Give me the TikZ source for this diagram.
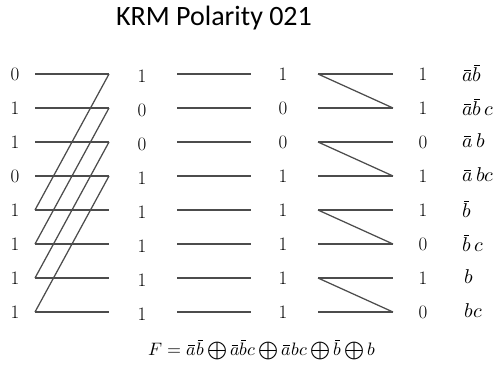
\documentclass[tikz,border=0pt]{standalone}
\usepackage{fontspec}
\usepackage{unicode-math}
\setmathfont{Latin Modern Math}
\newfontfamily\titlefont{Carlito}
\newcommand*\nv[1]{\mkern1.5mu\overline{\mkern-1.5mu#1\mkern-1.5mu}\mkern1.5mu}
\begin{document}
\begin{tikzpicture}[x=1pt,y=-1pt,
  wire/.style={draw=black!70, line width=1.25pt},
  bit/.style={font=\fontsize{19}{22}\selectfont, inner sep=0pt},
  term/.style={font=\fontsize{20}{23}\selectfont, inner sep=0pt, anchor=west}]
\useasboundingbox (0,0) rectangle (497,378);
\node[font=\titlefont\fontsize{28}{32}\selectfont, inner sep=0pt] (title) at (214,18) {KRM Polarity 021};
\foreach \i/\a/\b/\c/\d in {0/0/1/1/1, 1/1/0/0/1, 2/1/0/0/0, 3/0/1/1/1, 4/1/1/1/1, 5/1/1/1/0, 6/1/1/1/1, 7/1/1/1/0}{
  \pgfmathsetmacro{\yy}{74+34*\i}
  \node[bit] (p\i) at (15,\yy) {\a};
  \node[bit] (q\i) at (142,\yy+2) {\b};
  \node[bit] (r\i) at (283,\yy) {\c};
  \node[bit] (s\i) at (423,\yy) {\d};
  \coordinate (aL\i) at (35,\yy);
  \coordinate (aR\i) at (109,\yy);
  \coordinate (bL\i) at (177,\yy);
  \coordinate (bR\i) at (251,\yy);
  \coordinate (cL\i) at (318,\yy);
  \coordinate (cR\i) at (393,\yy);
  \draw[wire] (aL\i) -- (aR\i);
  \draw[wire] (bL\i) -- (bR\i);
  \draw[wire] (cL\i) -- (cR\i);
}
\foreach \i/\j in {4/0,5/1,6/2,7/3}{
  \draw[wire] (aL\i) -- (aR\j);
}
\foreach \i/\j in {0/1,2/3,4/5,6/7}{
  \draw[wire] (cL\i) -- (cR\j);
}
\node[term] (t0) at (462,73) {$\nv{a}\nv{b}$};
\node[term] (t1) at (462,107) {$\nv{a}\nv{b}\,c$};
\node[term] (t2) at (462,141) {$\nv{a}\,b$};
\node[term] (t3) at (462,175) {$\nv{a}\,bc$};
\node[term] (t4) at (462,209) {$\nv{b}$};
\node[term] (t5) at (462,243) {$\nv{b}\,c$};
\node[term] (t6) at (464,277) {$b$};
\node[term] (t7) at (464,311) {$bc$};
\node[font=\fontsize{18}{21}\selectfont, inner sep=0pt] (F) at (262,350)
  {$F=\nv{a}\nv{b}\bigoplus\nv{a}\nv{b}c\bigoplus\nv{a}bc\bigoplus\nv{b}\bigoplus b$};
\end{tikzpicture}
\end{document}
